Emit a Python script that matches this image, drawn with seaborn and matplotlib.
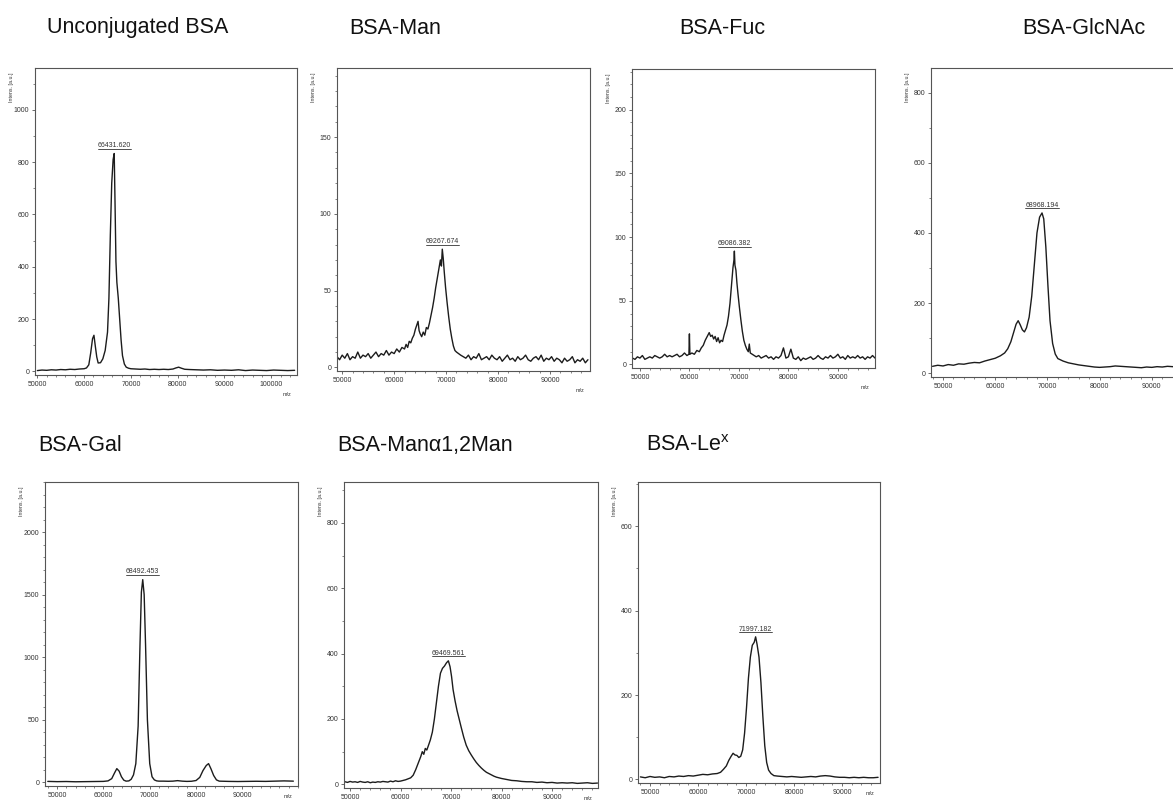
import matplotlib
matplotlib.use("Agg")
import matplotlib.pyplot as plt
import matplotlib.ticker as mticker
from matplotlib.lines import Line2D
from matplotlib.transforms import IdentityTransform
import numpy as np
import seaborn as sns

# ---- data (m/z, intensity in a.u.) ----
TITLES = ["Unconjugated BSA", "BSA-Man", "BSA-Fuc", "BSA-GlcNAc",
          "BSA-Gal", "BSA-Man\u03b11,2Man", "BSA-Le$^{\\mathrm{x}}$"]
PEAK_LABELS = ["66431.620", "69267.674", "69086.382", "68968.194",
               "68492.453", "69469.561", "71997.182"]

unconj_mz = [50000, 51000, 52000, 53000, 54000, 55000, 56000, 57000, 58000, 59000, 60000,
             60500, 61000, 61400, 61800, 62100, 62400, 62700, 63000,
             63500, 64000, 64500, 65000, 65300, 65600, 65900, 66200, 66431,
             66600, 66800, 67000, 67300, 67600, 67900, 68200, 68600, 69000, 69500, 70000,
             71000, 72000, 73000, 74000, 75000, 76000, 77000, 78000, 79000,
             79600, 80200, 80800, 81500, 82500,
             84000, 85500, 87000, 88500, 90000, 91500, 93000, 94500, 96000, 97500,
             99000, 100500, 102000, 103500, 105000]
unconj_int = [3, 5, 4, 6, 5, 7, 6, 8, 7, 9, 10,
              13, 25, 70, 125, 138, 95, 55, 32,
              33, 48, 80, 150, 280, 520, 720, 810, 833,
              650, 420, 340, 280, 200, 120, 60, 28, 16, 12, 10,
              9, 8, 9, 7, 8, 7, 8, 7, 9,
              13, 16, 12, 8, 7,
              6, 5, 6, 4, 5, 4, 6, 3, 5, 4,
              3, 5, 4, 3, 4]

man_mz = [49000, 49500, 50000, 50500, 51000, 51500, 52000, 52500, 53000, 53500,
          54000, 54500, 55000, 55500, 56000, 56500, 57000, 57500, 58000, 58500,
          59000, 59500, 60000, 60500, 61000, 61500,
          62000, 62300, 62600, 62900, 63200, 63500, 63800, 64100, 64400, 64600,
          64800, 65000, 65300, 65600, 65900, 66200, 66500, 66800, 67100, 67400,
          67700, 68000, 68300, 68600, 68900, 69100, 69267, 69450, 69650, 69900,
          70200, 70500, 70800, 71100, 71400, 71700, 72000, 72400, 72800,
          73300, 73800, 74300, 74800, 75300, 75800, 76300, 76800, 77300, 77800,
          78300, 78800, 79300, 79800, 80300, 80800, 81300, 81800, 82300, 82800,
          83300, 83800, 84300, 84800, 85300, 85800, 86300, 86800, 87300, 87800,
          88300, 88800, 89300, 89800, 90300, 90800, 91300, 91800, 92300, 92800,
          93300, 93800, 94300, 94800, 95300, 95800, 96300, 96800, 97300]
man_int = [7, 5, 8, 6, 9, 5, 7, 6, 10, 6,
           8, 7, 9, 6, 8, 10, 7, 9, 8, 11,
           8, 10, 9, 12, 10, 13,
           12, 15, 13, 17, 16, 19, 21, 25, 28, 30,
           24, 22, 20, 23, 21, 26, 25, 29, 34, 39,
           45, 52, 58, 64, 70, 66, 77, 71, 62, 52,
           42, 33, 25, 19, 14, 11, 10, 9, 8,
           7, 6, 8, 5, 7, 6, 9, 5, 6, 7,
           5, 8, 6, 5, 7, 4, 6, 8, 5, 6,
           4, 7, 5, 6, 8, 5, 4, 6, 7, 5,
           8, 4, 6, 5, 7, 4, 6, 5, 3, 6,
           4, 5, 7, 3, 5, 4, 6, 3, 5]

fuc_mz = [48500, 49000, 49500, 50000, 50500, 51000, 51500, 52000, 52500, 53000,
          53500, 54000, 54500, 55000, 55500, 56000, 56500, 57000, 57500, 58000,
          58500, 59000, 59500,
          59900, 60000, 60100, 60500, 61000, 61500, 62000, 62400, 62800, 63200,
          63600, 64000, 64300, 64600, 64900, 65200, 65500, 65800, 66100, 66400,
          66700, 67000, 67300, 67600, 67900, 68200, 68500, 68800, 69000, 69086,
          69200, 69400, 69600, 69800, 70100, 70400, 70700, 71000, 71300, 71600,
          71900, 72100, 72300, 72700, 73100,
          73500, 74000, 74500, 75000, 75500, 76000, 76500, 77000, 77500, 78000,
          78500, 79000, 79500, 80000, 80500, 81000, 81500, 82000, 82500, 83000,
          83500, 84000, 84500, 85000, 85500, 86000, 86500, 87000, 87500, 88000,
          88500, 89000, 89500, 90000, 90500, 91000, 91500, 92000, 92500, 93000,
          93500, 94000, 94500, 95000, 95500, 96000, 96500, 97000, 97500]
fuc_int = [5, 4, 6, 5, 7, 4, 5, 6, 5, 7,
           6, 5, 6, 8, 6, 7, 6, 7, 8, 6,
           7, 9, 7,
           8, 24, 8, 9, 8, 11, 10, 13, 15, 19,
           22, 25, 22, 23, 20, 22, 18, 21, 17, 19,
           18, 23, 27, 31, 38, 48, 62, 76, 82, 89,
           78, 74, 64, 56, 45, 35, 26, 19, 15, 12,
           10, 16, 9, 8, 7,
           6, 7, 5, 6, 7, 5, 6, 4, 6, 5,
           7, 13, 5, 6, 12, 5, 4, 6, 3, 5,
           4, 5, 6, 4, 5, 7, 5, 4, 6, 5,
           7, 5, 6, 8, 5, 6, 4, 7, 5, 6,
           5, 7, 5, 6, 4, 6, 5, 7, 5]

glcnac_mz = [48000, 49000, 50000, 51000, 52000, 53000, 54000, 55000, 56000, 57000,
             58000, 59000, 60000, 61000,
             61800, 62400, 63000, 63500, 64000, 64400, 64800, 65200, 65600, 66000,
             66500, 67000, 67500, 68000, 68500, 68968, 69300, 69700, 70100, 70500,
             71000, 71500, 72000,
             73000, 74000, 75000, 76000, 77000, 78000, 79000, 80000, 81000, 82000,
             83000, 84000, 85000, 86000, 87000, 88000, 89000, 90000, 91000, 92000,
             93000, 94000, 95000, 96000, 97000, 98000]
glcnac_int = [20, 23, 21, 25, 23, 27, 26, 29, 31, 30,
              35, 39, 43, 50,
              58, 70, 90, 115, 140, 150, 138, 124, 118, 130,
              160, 220, 310, 400, 445, 457, 440, 360, 250, 150,
              85, 55, 42,
              35, 30, 27, 24, 22, 20, 18, 17, 18, 19,
              21, 20, 19, 18, 17, 16, 18, 17, 19, 18,
              20, 19, 21, 20, 22, 21]

gal_mz = [48000, 50000, 52000, 54000, 56000, 58000, 60000,
          61000, 61800, 62400, 62900, 63400, 63900, 64400, 64900,
          65500, 66000, 66500, 67000, 67500, 67900, 68200, 68492,
          68800, 69100, 69500, 70000, 70500, 71000, 71500, 72000,
          73000, 74000, 75000, 76000, 77000, 78000, 79000, 80000,
          80800, 81500, 82200, 82700, 83200, 83800, 84400, 85000,
          87000, 89000, 91000, 93000, 95000, 97000, 99000, 101000]
gal_int = [8, 6, 7, 5, 6, 7, 8,
           12, 30, 75, 110, 90, 45, 18, 10,
           12, 25, 60, 150, 450, 1100, 1520, 1620,
           1500, 1100, 500, 150, 45, 20, 12, 10,
           10, 9, 10, 14, 10, 8, 9, 15,
           40, 95, 135, 150, 110, 55, 20, 10,
           8, 7, 8, 9, 8, 10, 12, 10]

man2_mz = [49000, 49500, 50000, 50500, 51000, 51500, 52000, 52500, 53000, 53500,
           54000, 54500, 55000, 55500, 56000, 56500, 57000, 57500, 58000, 58500,
           59000, 59500, 60000, 60500, 61000, 61500,
           62000, 62500, 63000, 63500, 64000, 64300, 64600, 64900, 65200, 65500,
           65900, 66300, 66700, 67100, 67500, 67900, 68300, 68700, 69100, 69469,
           69800, 70100, 70400, 70800, 71200, 71600, 72000, 72500, 73000, 73500,
           74000, 74500, 75000, 75500, 76000, 76500, 77000, 77500, 78000, 78500,
           79000,
           80000, 81000, 82000, 83000, 84000, 85000, 86000, 87000, 88000, 89000,
           90000, 91000, 92000, 93000, 94000, 95000, 96000, 97000, 98000, 99000]
man2_int = [8, 6, 9, 7, 8, 6, 9, 7, 6, 8,
            5, 7, 6, 8, 7, 9, 8, 7, 10, 8,
            11, 9, 10, 12, 14, 17,
            20, 28, 45, 65, 85, 100, 92, 110, 105, 118,
            136, 160, 200, 250, 300, 340, 355, 362, 372, 378,
            360, 330, 290, 255, 225, 200, 175, 145, 120, 103,
            90, 78, 67, 58, 50, 43, 37, 33, 29, 25,
            22,
            18, 15, 12, 11, 9, 8, 8, 6, 7, 5,
            6, 4, 5, 4, 5, 3, 4, 5, 3, 4]

lex_mz = [48000, 49000, 50000, 51000, 52000, 53000, 54000, 55000, 56000, 57000,
          58000, 59000, 60000, 61000, 62000, 63000, 64000,
          64700, 65300, 65900, 66400, 66900, 67300, 67700, 68100, 68500, 68900,
          69300, 69700, 70100, 70500, 70900, 71300, 71700, 71997, 72300, 72700,
          73100, 73500, 73900, 74300, 74700, 75200, 75800,
          76500, 77500, 78500, 79500, 80500, 81500, 82500, 83500, 84500, 85500,
          86500, 87500, 88500, 89500, 90500, 91500, 92500, 93500, 94500, 95500,
          96500, 97500]
lex_int = [6, 4, 7, 5, 6, 4, 7, 6, 8, 7,
           9, 8, 10, 12, 11, 13, 14,
           17, 24, 32, 45, 55, 62, 58, 57, 52, 55,
           70, 110, 170, 240, 290, 318, 325, 338, 320, 290,
           230, 150, 80, 40, 22, 14, 9,
           8, 7, 6, 7, 6, 5, 6, 7, 6, 8,
           9, 8, 6, 5, 5, 4, 5, 4, 5, 4,
           4, 5]

SPECTRA = [(unconj_mz, unconj_int), (man_mz, man_int), (fuc_mz, fuc_int),
           (glcnac_mz, glcnac_int), (gal_mz, gal_int), (man2_mz, man2_int),
           (lex_mz, lex_int)]

X_LIMITS = [(49500, 105500), (49000, 97700), (48400, 97500), (47700, 97700),
            (47400, 102000), (48800, 99100), (47500, 97900)]
X_LAST_LABEL = [100000, 90000, 90000, 90000, 90000, 90000, 90000]
Y_TOPS = [1160, 195, 232, 870, 2400, 925, 705]
Y_MAJOR = [200, 50, 50, 200, 500, 200, 200]
Y_MINOR = [100, 10, 10, 100, 100, 100, 100]

# ---- layout (pixel boxes on the 1173x805 canvas) ----
W, H = 1173, 805
PANEL_BOXES = [(35, 68, 297, 375), (337, 68, 590, 371), (632, 69, 875, 368),
               (931, 68, 1192, 377), (45, 482, 298, 786), (344, 482, 598, 788),
               (638, 482, 880, 783)]
TITLE_POS = [(138, 28), (395, 28), (722, 28), (1084, 28),
             (80, 445), (425, 445), (688, 445)]
# the GlcNAc panel runs off the right edge, so its m/z caption is not visible
MZ_OFFSET = [-12, -12, -12, None, -6, -6, -6]

sns.set_style("ticks")
plt.rcParams["font.family"] = ["Liberation Sans", "DejaVu Sans"]
plt.rcParams["mathtext.fontset"] = "custom"
plt.rcParams["mathtext.rm"] = "Liberation Sans"

fig = plt.figure(figsize=(W / 100, H / 100), dpi=100)
line_col = "#1c1c1c"
frame_col = "#555555"
text_col = "#333333"

peak_texts = []
for i, (mz, inten) in enumerate(SPECTRA):
    l, t, r, b = PANEL_BOXES[i]
    ax = fig.add_axes([l / W, 1 - b / H, (r - l) / W, (b - t) / H])
    sns.lineplot(x=mz, y=inten, ax=ax, color=line_col, lw=1.0,
                 estimator=None, sort=False)

    ax.set_xlim(*X_LIMITS[i])
    ax.set_ylim(-0.012 * Y_TOPS[i], Y_TOPS[i])
    ax.xaxis.set_major_locator(
        mticker.FixedLocator(list(range(50000, X_LAST_LABEL[i] + 1, 10000))))
    ax.xaxis.set_minor_locator(mticker.MultipleLocator(2000))
    ax.yaxis.set_major_locator(mticker.MultipleLocator(Y_MAJOR[i]))
    ax.yaxis.set_minor_locator(mticker.MultipleLocator(Y_MINOR[i]))
    ax.tick_params(which="major", direction="out", length=2.5, width=0.6,
                   colors=frame_col, labelcolor=text_col, labelsize=5, pad=1.5)
    ax.tick_params(which="minor", direction="out", length=1.5, width=0.5,
                   colors=frame_col)
    ax.tick_params(axis="x", which="both", top=False)
    ax.tick_params(axis="y", which="both", right=False)
    for sp in ax.spines.values():
        sp.set_color(frame_col)
        sp.set_linewidth(0.8)
    ax.set_xlabel("")
    ax.set_ylabel("")

    ax.annotate("Intens. [a.u.]", xy=(0, 1), xycoords="axes fraction",
                xytext=(-17, -3), textcoords="offset points", rotation=90,
                ha="center", va="top", fontsize=3.8, color=text_col)
    if MZ_OFFSET[i] is not None:
        ax.annotate("m/z", xy=(1, 0), xycoords="axes fraction",
                    xytext=(-4, MZ_OFFSET[i]), textcoords="offset points",
                    ha="right", va="top", fontsize=4, color=text_col)

    k = int(np.argmax(inten))
    pt = ax.annotate(PEAK_LABELS[i], xy=(mz[k], inten[k]), xycoords="data",
                     xytext=(0, 3), textcoords="offset points",
                     ha="center", va="bottom", fontsize=5, color=text_col)
    peak_texts.append(pt)

    tx, ty = TITLE_POS[i]
    fig.text(tx / W, 1 - ty / H, TITLES[i], ha="center", va="center",
             fontsize=15.5, color="#111111")

# underline the peak labels like the instrument software does
fig.canvas.draw()
renderer = fig.canvas.get_renderer()
for pt in peak_texts:
    bb = pt.get_window_extent(renderer)
    fig.add_artist(Line2D([bb.x0, bb.x1], [bb.y0 + 0.3, bb.y0 + 0.3],
                          transform=IdentityTransform(), color=text_col, lw=0.6))

fig.savefig("out.png", dpi=100)
